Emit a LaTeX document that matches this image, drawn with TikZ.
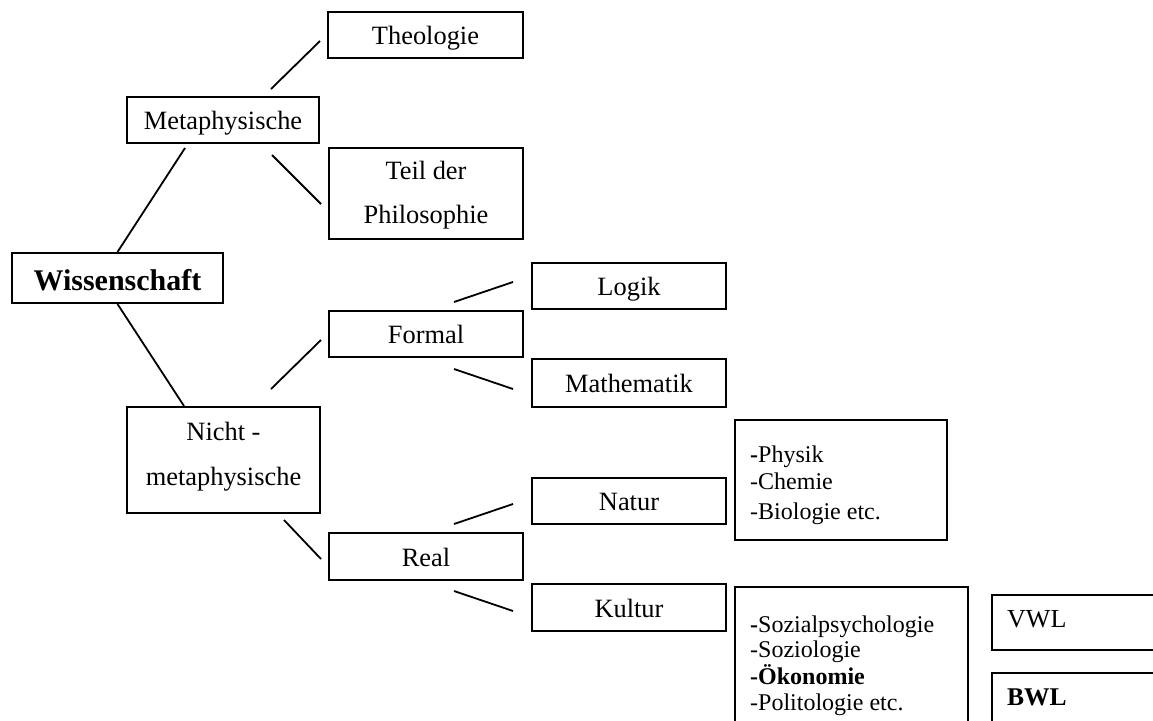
\documentclass[tikz,border=0pt]{standalone}
\usepackage{fontspec}
\setmainfont{Liberation Serif}
\usetikzlibrary{calc}
\begin{document}
\begin{tikzpicture}[x=1pt,y=-1pt,
  box/.style={draw, line width=2pt, inner sep=0pt, text height=19pt, text depth=0pt,
              font=\fontsize{26.4}{30}\selectfont},
  link/.style={line width=1.8pt},
  lbl/.style={anchor=base, inner sep=0pt, font=\fontsize{26.4}{30}\selectfont},
  item/.style={anchor=base west, inner sep=0pt, font=\fontsize{24}{28}\selectfont}]
\useasboundingbox (0,0) rectangle (1153,720);
\clip (0,0) rectangle (1153,720);

% --- boxes ---
\node[box, minimum width=211pt, minimum height=50pt, text height=24pt,
      font=\fontsize{30}{34}\selectfont\bfseries] (wiss) at (117.5,278) {Wissenschaft};
\node[box, minimum width=192pt, minimum height=46pt] (meta) at (223,120) {Metaphysische};
\node[box, minimum width=195pt, minimum height=46pt] (theo) at (425.5,35) {Theologie};
\node[box, minimum width=194pt, minimum height=91pt] (teil) at (426,193.5) {};
\node[box, minimum width=193pt, minimum height=106pt] (nicht) at (223.5,460) {};
\node[box, minimum width=194pt, minimum height=46pt] (formal) at (426,334) {Formal};
\node[box, minimum width=194pt, minimum height=46pt] (logik) at (629,286) {Logik};
\node[box, minimum width=194pt, minimum height=48pt] (mathe) at (629,383) {Mathematik};
\node[box, minimum width=194pt, minimum height=46pt] (natur) at (629,501) {Natur};
\node[box, minimum width=194pt, minimum height=47pt] (real) at (426,556.5) {Real};
\node[box, minimum width=194pt, minimum height=47pt] (kultur) at (629,607.5) {Kultur};
\node[box, minimum width=212pt, minimum height=120pt] (physlist) at (841,480) {};
\node[box, minimum width=233pt, minimum height=153pt] (kultlist) at (851.5,663.5) {};
\node[box, minimum width=178pt, minimum height=55pt] (vwl) at (1081,622.5) {};
\node[box, minimum width=178pt, minimum height=67pt] (bwl) at (1081,706.5) {};

% --- two-line labels ---
\node[lbl] (teilA) at ($(teil.center)+(0,-14.5)$) {Teil der};
\node[lbl] (teilB) at ($(teil.center)+(0,29.5)$) {Philosophie};
\node[lbl] (nichtA) at ($(nicht.center)+(0,-20)$) {Nicht -};
\node[lbl] (nichtB) at ($(nicht.center)+(0,25)$) {metaphysische};

% --- lists ---
\node[item] (p1) at (750,462) {\textbf{-}Physik};
\node[item] (p2) at (750,489) {-Chemie};
\node[item] (p3) at (750,519) {-Biologie etc.};
\node[item] (k1) at (750,632) {\textbf{-}Sozialpsychologie};
\node[item] (k2) at (750,657) {-Soziologie};
\node[item] (k3) at (750,684) {\textbf{-Ökonomie}};
\node[item] (k4) at (750,710) {-Politologie etc.};
\node[item, font=\fontsize{26}{30}\selectfont] (vwlt) at (1007,627) {VWL};
\node[item, font=\fontsize{25.5}{30}\selectfont\bfseries] (bwlt) at (1007,705) {BWL};

% --- connector ends ---
\coordinate (m1) at (185,148);
\coordinate (t1) at (271,89);   \coordinate (t2) at (320,41);
\coordinate (p1a) at (272,155); \coordinate (p1b) at (321,204);
\coordinate (f1) at (271,389);  \coordinate (f2) at (321,340);
\coordinate (r1) at (284,520);  \coordinate (r2) at (321,559);
\coordinate (lg1) at (454,302); \coordinate (lg2) at (513,282);
\coordinate (ma1) at (454,369); \coordinate (ma2) at (513,389);
\coordinate (na1) at (454,524); \coordinate (na2) at (513,504);
\coordinate (ku1) at (454,591); \coordinate (ku2) at (513,611);

% --- connectors ---
\draw[link] (wiss.north) -- (m1);
\draw[link] (wiss.south) -- (nicht.north -| 184,0);
\draw[link] (t1) -- (t2);
\draw[link] (p1a) -- (p1b);
\draw[link] (f1) -- (f2);
\draw[link] (r1) -- (r2);
\draw[link] (lg1) -- (lg2);
\draw[link] (ma1) -- (ma2);
\draw[link] (na1) -- (na2);
\draw[link] (ku1) -- (ku2);
\end{tikzpicture}
\end{document}
